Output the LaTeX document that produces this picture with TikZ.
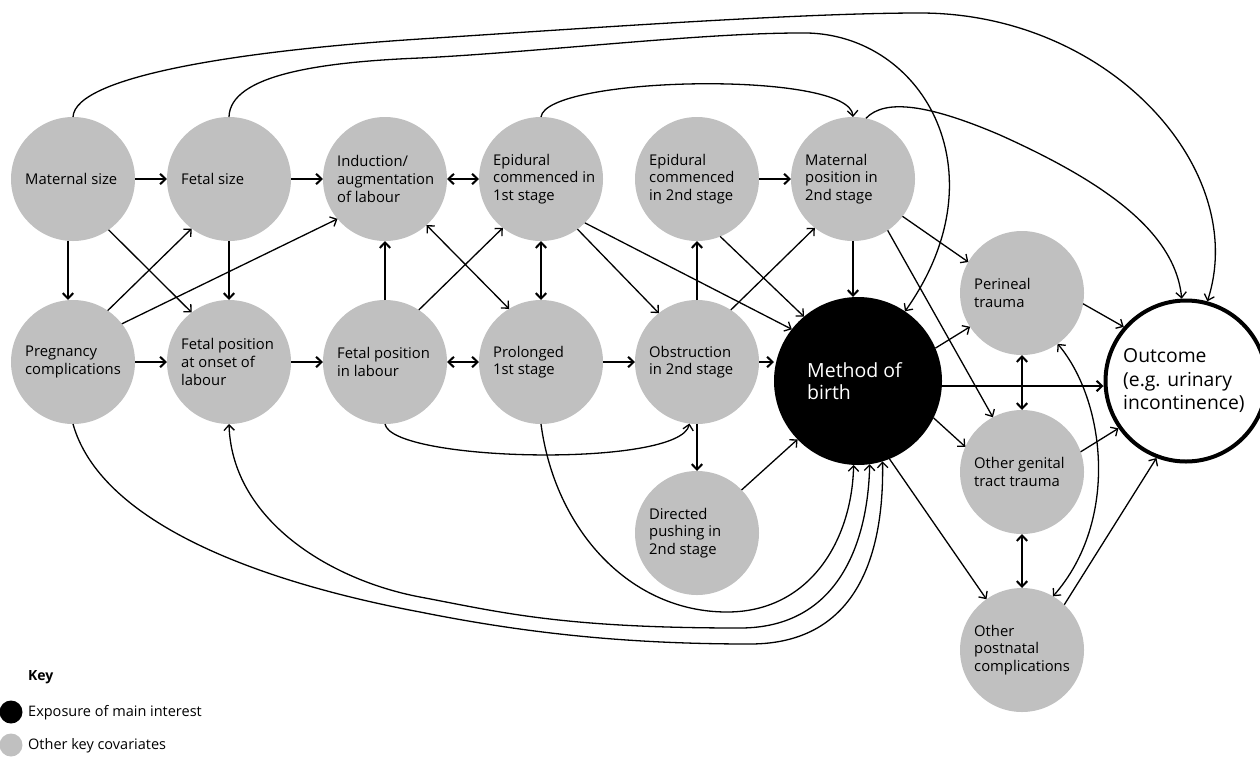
\documentclass[tikz,border=0pt]{standalone}
\usepackage{fontspec}
\setmainfont{Open Sans}
\usetikzlibrary{arrows.meta,calc}
\definecolor{ngray}{RGB}{192,192,192}
\begin{document}
\begin{tikzpicture}[x=1pt,y=-1pt,
  gc/.style={circle, fill=ngray, minimum size=124pt, inner sep=0pt, outer sep=0pt},
  gt/.style={anchor=west, align=left, inner sep=0pt, font=\fontsize{14.8}{17.7}\selectfont},
  ln/.style={line width=1.3pt, ->},
  hv/.style={line width=2pt, ->},
  >={Straight Barb[length=5.5pt,width=10.5pt]},
  keyt/.style={anchor=west, inner sep=0pt, font=\fontsize{14.5}{16}\selectfont}
]
\useasboundingbox (0,0) rectangle (1260,756);
\newcommand{\cnode}[4]{%
  \node[gc] (#1) at (#2,#3) {};
  \node[gt] (#1-t) at ($(#1.center)+(-48,0)$) {#4};
}
% nodes
\cnode{ms}{73}{179}{Maternal size}
\cnode{fs}{229}{179}{Fetal size}
\cnode{ind}{385}{179}{Induction/\\augmentation\\of labour}
\cnode{ep1}{541}{179}{Epidural\\commenced in\\1st stage}
\cnode{ep2}{697}{179}{Epidural\\commenced\\in 2nd stage}
\cnode{mp}{853}{179}{Maternal\\position in\\2nd stage}
\cnode{pc}{73}{362}{Pregnancy\\complications}
\cnode{fpo}{229}{362}{Fetal position\\at onset of\\labour}
\cnode{fpl}{385}{362}{Fetal position\\in labour}
\cnode{pro}{541}{362}{Prolonged\\1st stage}
\cnode{obs}{697}{362}{Obstruction\\in 2nd stage}
\cnode{dp}{697}{533}{Directed\\pushing in\\2nd stage}
\cnode{per}{1022}{293}{Perineal\\trauma}
\cnode{ogt}{1022}{472}{Other genital\\tract trauma}
\cnode{opc}{1022}{650}{Other\\postnatal\\complications}

\node[circle, fill=black, minimum size=168pt, inner sep=0pt, outer sep=0pt] (mob) at (858,381) {};
\node[anchor=west, align=left, inner sep=0pt, text=white, font=\fontsize{19.5}{22.5}\selectfont] (mob-t) at ($(mob.center)+(-51,0)$) {Method of\\birth};

\node[circle, draw=black, fill=white, line width=4pt, minimum size=161pt, inner sep=0pt] (out) at (1186,381) {};
\node[anchor=west, align=left, inner sep=0pt, font=\fontsize{19.3}{23.5}\selectfont] (out-t) at ($(out.center)+(-63,0)$) {Outcome\\(e.g. urinary\\incontinence)};

% key
\node[circle, fill=black, minimum size=23pt, inner sep=0pt] (k1) at (11,712) {};
\node[circle, fill=ngray, minimum size=23pt, inner sep=0pt] (k2) at (11,745) {};
\node[keyt, font=\bfseries\fontsize{14}{16}\selectfont] (key) at (28,677) {Key};
\node[keyt] (k1t) at (28,713) {Exposure of main interest};
\node[keyt] (k2t) at (28,746) {Other key covariates};

% horizontal
\draw[hv] (ms) -- (fs);
\draw[hv] (fs) -- (ind);
\draw[hv,<->] (ind) -- (ep1);
\draw[hv] (ep2) -- (mp);
\draw[hv] (pc) -- (fpo);
\draw[hv] (fpo) -- (fpl);
\draw[hv,<->] (fpl) -- (pro);
\draw[hv] (pro) -- (obs);
\draw[hv] (obs.east) -- (obs.east -| mob.west);
\draw[hv] ([yshift=-5pt]mob.east) -- ([yshift=-5pt]out.west);
% vertical
\draw[hv] ([xshift=-5pt]ms.south) -- ([xshift=-5pt]pc.north);
\draw[hv] (fs) -- (fpo);
\draw[hv] (fpl) -- (ind);
\draw[hv,<->] (ep1) -- (pro);
\draw[hv] (obs) -- (ep2);
\draw[hv] (mp.south) -- (mp.south |- mob.north);
\draw[hv] (obs) -- (dp);
\draw[hv,<->] (per) -- (ogt);
\draw[hv,<->] (ogt) -- (opc);
% diagonals
\draw[ln] (ms.-55) -- (fpo.127.9);
\draw[ln] (pc.56.8) -- (fs.-127.4);
\draw[ln] (pc.38.5) -- (ind.-140.5);
\draw[ln] (fpl.57.6) -- (ep1.-128);
\draw[ln,<->] (ind.-48) -- (pro.121);
\draw[ln] (ep1.-54.8) -- (obs.128.7);
\draw[ln] (ep1.-45) -- (mob.142);
\draw[ln] (ep2.-68.4) -- (mob.130.7);
\draw[ln] (obs.57) -- (mp.-128.8);
\draw[ln] (mp.-37) -- (per.150.6);
\draw[ln] (mp.-56.3) -- (ogt.118.2);
\draw[ln] (mob.23.2) -- (per.-147.8);
\draw[ln] (mob.-26.3) -- (ogt.156.7);
\draw[ln] (mob.-68.6) -- (opc.125.8);
\draw[ln] (per.-10.2) -- (out.139.7);
\draw[ln] (ogt.19.3) -- (out.-145.4);
\draw[ln] (opc.47.5) -- (out.-111.2);
\draw[ln] (dp.44.4) -- (mob.-136.9);
% curves
\draw[ln] (ms.90) .. controls (75,75) and (250,50) .. (420,39)
  .. controls (590,28) and (800,13) .. (920,13)
  .. controls (1110,13) and (1250,170) .. (out.75.3);
\draw[ln] (fs.90) .. controls (230,75) and (320,62) .. (420,58)
  .. controls (540,52) and (700,33) .. (800,33)
  .. controls (920,30) and (1005,170) .. (mob.56.5);
\draw[ln] (mp.78.9) .. controls (885,98) and (930,105) .. (1000,135)
  .. controls (1100,180) and (1175,230) .. (out.93.4);
\draw[ln] (ep1.90) .. controls (546,76) and (850,70) .. (mp.90);
\draw[ln] (fpl.-90) .. controls (392,462) and (680,468) .. (obs.-97.8);
\draw[ln] (pro.-90) .. controls (555,530) and (630,612) .. (727,612)
  .. controls (810,612) and (852,540) .. (mob.-93.3);
\draw[ln,<->] (fpo.-90) .. controls (232,520) and (330,580) .. (420,597)
  .. controls (500,612) and (560,628) .. (740,628)
  .. controls (840,628) and (868,540) .. (mob.-82.7);
\draw[ln] (pc.-90) .. controls (100,520) and (250,580) .. (420,612)
  .. controls (520,632) and (620,644) .. (750,644)
  .. controls (860,644) and (884,550) .. (mob.-73.8);
\draw[ln,<->] (per.-55.8) .. controls (1105,400) and (1120,520) .. (opc.60.7);
\end{tikzpicture}
\end{document}
